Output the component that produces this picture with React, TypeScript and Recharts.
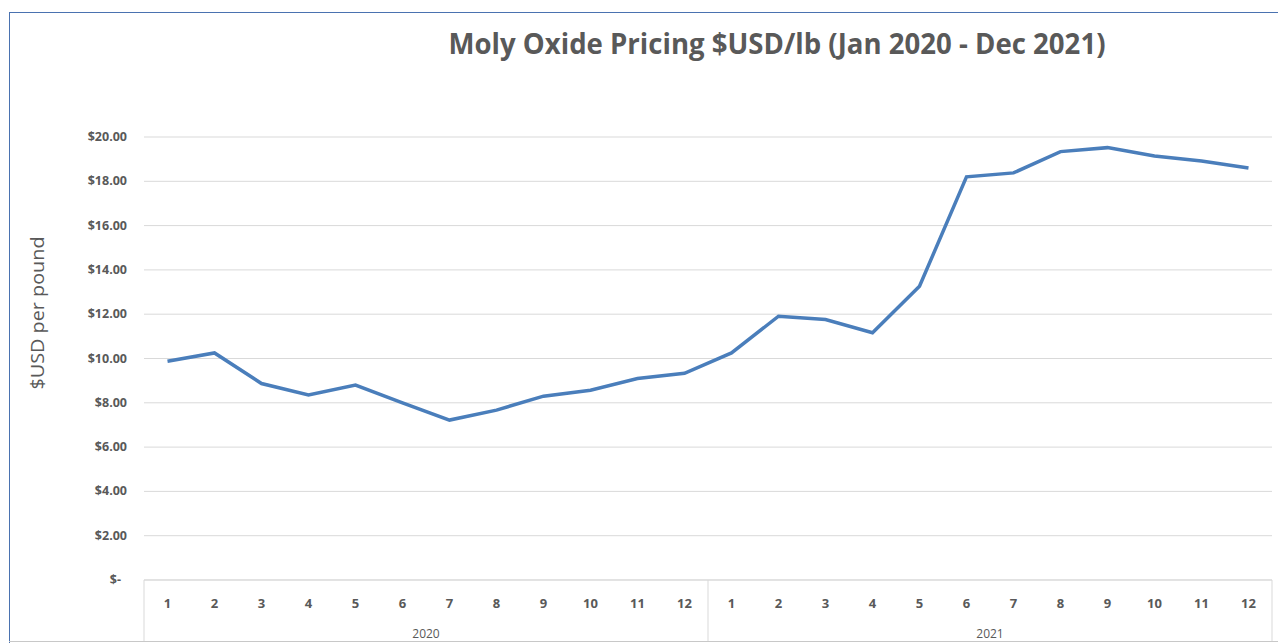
import { LineChart, Line, XAxis, YAxis, CartesianGrid } from 'recharts'

const MONTHS = ['1', '2', '3', '4', '5', '6', '7', '8', '9', '10', '11', '12']
const YEARS = ['2020', '2021']
const PRICE_2020 = [9.88, 10.25, 8.87, 8.35, 8.8, 8.0, 7.22, 7.67, 8.3, 8.57, 9.1, 9.33]
const PRICE_2021 = [10.25, 11.91, 11.76, 11.16, 13.26, 18.2, 18.38, 19.34, 19.52, 19.14, 18.92, 18.6]
const Y_TICKS = [0, 2, 4, 6, 8, 10, 12, 14, 16, 18, 20]

const TEXT = '#595959'
const GRID = '#d9d9d9'
const FONT = "'Open Sans', sans-serif"

const data = [PRICE_2020, PRICE_2021].flatMap((prices, y) =>
  prices.map((price, m) => ({ idx: y * 12 + m, month: MONTHS[m], year: YEARS[y], price }))
)
const monthTicks = data.map((d) => d.idx)
const yearTicks = YEARS.map((_, i) => i * 12 + 5.5)
const boundTicks = [...YEARS.map((_, i) => i * 12 - 0.5), YEARS.length * 12 - 0.5]
const xDomain = [-0.5, YEARS.length * 12 - 0.5]

// Excel accounting style: "$-" for zero
const formatPrice = (v: number) => (v === 0 ? '$-' : `$${v.toFixed(2)}`)

const YTick = ({ x, y, payload }: any) => (
  <text
    x={payload.value === 0 ? x - 6 : x}
    y={y}
    dy={4}
    textAnchor="end"
    fill={TEXT}
    fontSize={12.5}
    fontWeight={700}
    fontFamily={FONT}
  >
    {formatPrice(payload.value)}
  </text>
)

const NoTick = () => <g />

export default function App() {
  return (
    <div
      style={{
        position: 'absolute',
        left: 0,
        top: 0,
        width: 1278,
        height: 643,
        overflow: 'hidden',
        background: '#fff',
      }}
    >
      {/* chart frame */}
      <div
        style={{
          position: 'absolute',
          left: 9,
          top: 12,
          width: 1300,
          height: 640,
          borderLeft: '1px solid #4a72b0',
          borderTop: '1px solid #4a72b0',
        }}
      />
      <div
        style={{
          position: 'absolute',
          left: 9,
          top: 641,
          width: 1300,
          borderTop: '1px solid #c8c8c8',
        }}
      />
      <div style={{ position: 'absolute', left: 0, top: 0 }}>
        <LineChart
          width={1278}
          height={643}
          data={data}
          margin={{ top: 137, right: 6, bottom: 0, left: 0 }}
        >
          <CartesianGrid xAxisId="month" vertical={false} stroke={GRID} />
          <XAxis
            xAxisId="bounds"
            type="number"
            dataKey="idx"
            domain={xDomain}
            ticks={boundTicks}
            interval={0}
            height={1}
            tickSize={61}
            tick={NoTick}
            tickLine={{ stroke: GRID }}
            axisLine={{ stroke: GRID }}
          />
          <XAxis
            xAxisId="month"
            type="number"
            dataKey="idx"
            domain={xDomain}
            ticks={monthTicks}
            interval={0}
            height={39}
            tickSize={0}
            tickMargin={18}
            axisLine={false}
            tickLine={false}
            tickFormatter={(v: number) => MONTHS[v % 12]}
            tick={{ fill: TEXT, fontSize: 13, fontWeight: 700, fontFamily: FONT }}
          />
          <XAxis
            xAxisId="year"
            type="number"
            dataKey="idx"
            domain={xDomain}
            ticks={yearTicks}
            interval={0}
            height={23}
            tickSize={0}
            tickMargin={9}
            axisLine={false}
            tickLine={false}
            tickFormatter={(v: number) => YEARS[Math.floor(v / 12)]}
            tick={{ fill: TEXT, fontSize: 12, fontFamily: FONT }}
          />
          <YAxis
            domain={[0, 20]}
            ticks={Y_TICKS}
            interval={0}
            width={144}
            tickSize={0}
            tickMargin={17}
            axisLine={false}
            tickLine={false}
            tick={<YTick />}
          />
          <Line
            xAxisId="month"
            type="linear"
            dataKey="price"
            stroke="#4a7ebb"
            strokeWidth={3.5}
            dot={false}
            isAnimationActive={false}
          />
        </LineChart>
      </div>
      <svg
        width={1278}
        height={643}
        style={{ position: 'absolute', left: 0, top: 0, pointerEvents: 'none' }}
      >
        <text
          x={777}
          y={54}
          textAnchor="middle"
          fill={TEXT}
          fontSize={28}
          fontWeight={700}
          fontFamily={FONT}
          textLength={657}
          lengthAdjust="spacingAndGlyphs"
        >
          Moly Oxide Pricing $USD/lb (Jan 2020 - Dec 2021)
        </text>
        <text
          x={0}
          y={0}
          transform="translate(44 313) rotate(-90)"
          textAnchor="middle"
          fill={TEXT}
          fontSize={18}
          fontFamily={FONT}
          textLength={153}
          lengthAdjust="spacingAndGlyphs"
        >
          $USD per pound
        </text>
      </svg>
    </div>
  )
}
